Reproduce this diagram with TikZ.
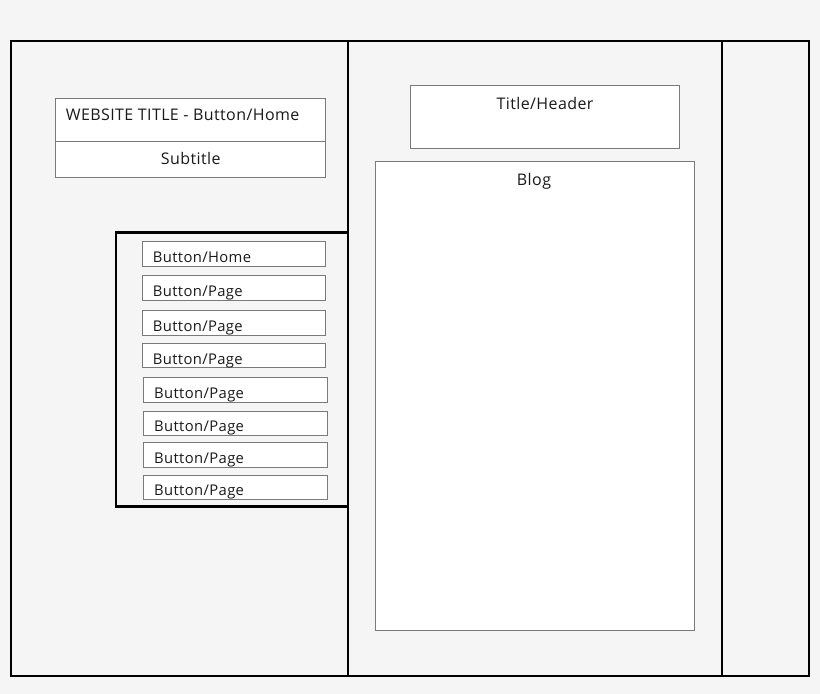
\documentclass[tikz,border=0pt]{standalone}
\usepackage{fontspec}
\setmainfont{Open Sans}[LetterSpace=2.5]
\definecolor{bg}{HTML}{F5F5F5}
\definecolor{boxgray}{HTML}{7A7A7A}
\definecolor{ink}{HTML}{1A1A1A}
\begin{document}
\begin{tikzpicture}[x=1pt,y=-1pt,
  wall/.style={line width=2.8pt, draw=black},
  frame/.style={wall, outer sep=0pt, inner sep=0pt, anchor=north west},
  box/.style={draw=boxgray, fill=white, line width=1pt, outer sep=0pt, inner sep=0pt, anchor=north west},
  ttl/.style={font=\fontsize{16}{18}\selectfont, text=ink, inner sep=0pt},
  btxt/.style={font=\fontsize{14.8}{17}\selectfont, text=ink, inner sep=0pt, anchor=base west}]
\fill[bg] (0,0) rectangle (820,694);
\useasboundingbox (0,0) rectangle (820,694);
% outer frame and column lines
\node[frame, minimum width=798pt, minimum height=635pt] (outer) at (11,41) {};
\coordinate (v1t) at (348,41); \coordinate (v1b) at (348,676);
\coordinate (v2t) at (722,41); \coordinate (v2b) at (722,676);
\draw[wall] (v1t) -- (v1b);
\draw[wall] (v2t) -- (v2b);
% navigation panel
\coordinate (navtr) at (348,232.3); \coordinate (navtl) at (116,232.3);
\coordinate (navbl) at (116,506.5); \coordinate (navbr) at (348,506.5);
\draw[wall] (navtr) -- (navtl) -- (navbl) -- (navbr);
% website title block
\node[box, minimum width=270.5pt, minimum height=43pt] (wtitle) at (55.3,98.3) {};
\node[box, minimum width=270.5pt, minimum height=36pt] (subt) at (55.3,141.3) {};
\node[ttl, anchor=base west] (wtitletxt) at (65.7,120.7) {WEBSITE TITLE - Button/Home};
\node[ttl, anchor=base] (subttxt) at (190.7,164) {Subtitle};
% header and blog
\node[box, minimum width=268.3pt, minimum height=62.7pt] (header) at (410.7,85.3) {};
\node[ttl, anchor=base] (headertxt) at (545,109) {Title/Header};
\node[box, minimum width=318.7pt, minimum height=469pt] (blog) at (375.3,161.3) {};
\node[ttl, anchor=base] (blogtxt) at (534,185) {Blog};
% buttons
\node[box, minimum width=183.7pt, minimum height=24.6pt] (b1) at (142,241.7) {};
\node[box, minimum width=183.7pt, minimum height=24.6pt] (b2) at (142,275.7) {};
\node[box, minimum width=183.7pt, minimum height=25pt] (b3) at (142,310) {};
\node[box, minimum width=183.7pt, minimum height=24.4pt] (b4) at (142,343.3) {};
\node[box, minimum width=184.4pt, minimum height=25pt] (b5) at (143.3,377.3) {};
\node[box, minimum width=184.4pt, minimum height=24pt] (b6) at (143.3,411.3) {};
\node[box, minimum width=184.4pt, minimum height=25pt] (b7) at (143.3,442.3) {};
\node[box, minimum width=184.4pt, minimum height=24.3pt] (b8) at (143.3,475) {};
\node[btxt] (t1) at (152.7,262.3) {Button/Home};
\node[btxt] (t2) at (152.7,296.7) {Button/Page};
\node[btxt] (t3) at (152.7,331) {Button/Page};
\node[btxt] (t4) at (152.7,364.3) {Button/Page};
\node[btxt] (t5) at (154,398.3) {Button/Page};
\node[btxt] (t6) at (154,431.7) {Button/Page};
\node[btxt] (t7) at (154,463.3) {Button/Page};
\node[btxt] (t8) at (154,495.7) {Button/Page};
\end{tikzpicture}
\end{document}
